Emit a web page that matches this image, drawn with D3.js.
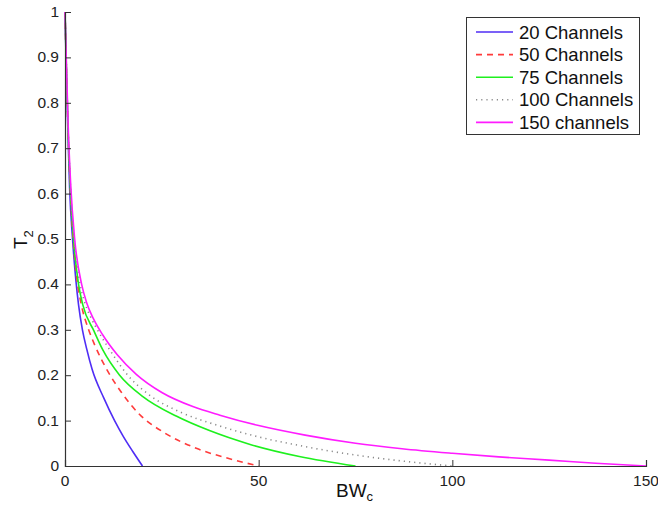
<!DOCTYPE html>
<html>
<head>
<meta charset="utf-8">
<script src="https://cdn.jsdelivr.net/npm/d3@7"></script>
<style>
  body { margin: 0; background: #fff; }
  svg { display: block; font-family: "Liberation Sans", Arial, Helvetica, sans-serif; }
</style>
</head>
<body>
<div id="grafico"></div>
<script>
// Datos (BW_c -> T_2)
const bw20  = [0, 0.4, 0.8, 1.2, 1.95, 2.8, 3.5, 4.5, 5.6, 7, 10, 12.8, 15, 17.5, 20];
const t20   = [1, 0.85, 0.72, 0.61, 0.5, 0.41, 0.355, 0.3, 0.258, 0.213, 0.15, 0.1, 0.066, 0.032, 0];

const bw50  = [0, 0.4, 0.8, 1.35, 2.1, 3.1, 4.1, 6.2, 7.6, 11.1, 14.5, 19.2, 25.7, 33.9, 42.5, 50];
const t50   = [1, 0.86, 0.735, 0.61, 0.5, 0.41, 0.36, 0.298, 0.268, 0.208, 0.163, 0.114, 0.073, 0.039, 0.016, 0];

const bw75  = [0, 0.4, 0.8, 1.4, 2.2, 3.5, 4.6, 7.5, 9.8, 14.1, 20.1, 28.7, 37.3, 48, 60.5, 75];
const t75   = [1, 0.865, 0.74, 0.61, 0.5, 0.4, 0.355, 0.297, 0.255, 0.2, 0.153, 0.11, 0.078, 0.047, 0.021, 0];

const bw100 = [0, 0.4, 0.8, 1.45, 2.35, 3.9, 5.1, 6.8, 8.5, 12, 15.9, 22, 30, 40, 50, 60, 73.5, 85, 100];
const t100  = [1, 0.87, 0.745, 0.61, 0.5, 0.4, 0.36, 0.325, 0.298, 0.25, 0.203, 0.155, 0.118, 0.088, 0.064, 0.046, 0.026, 0.013, 0];

const bw150 = [0, 0.4, 0.8, 1.5, 2.5, 4.3, 5.5, 7.3, 9.8, 13.5, 18.4, 25, 33, 40, 50, 62, 75, 87, 100, 112, 125, 137, 150];
const t150  = [1, 0.875, 0.755, 0.615, 0.5, 0.4, 0.362, 0.325, 0.288, 0.245, 0.202, 0.162, 0.131, 0.112, 0.089, 0.068, 0.05, 0.038, 0.028, 0.02, 0.013, 0.006, 0];

const nombres = ["20 Channels", "50 Channels", "75 Channels", "100 Channels", "150 channels"];
const xTicks = [0, 50, 100, 150];
const yTicks = [0, 0.1, 0.2, 0.3, 0.4, 0.5, 0.6, 0.7, 0.8, 0.9, 1];

// estilo de cada serie
const series = [
  { nombre: nombres[0], x: bw20,  y: t20,  color: "#4f2df5", dash: null },
  { nombre: nombres[1], x: bw50,  y: t50,  color: "#ff3b3b", dash: "6,5" },
  { nombre: nombres[2], x: bw75,  y: t75,  color: "#1ef01e", dash: null },
  { nombre: nombres[3], x: bw100, y: t100, color: "#8a8a8a", dash: "1.2,4" },
  { nombre: nombres[4], x: bw150, y: t150, color: "#ff1cff", dash: null }
];

const WIDTH = 658, HEIGHT = 505;
const margin = { left: 65, right: 12, top: 12, bottom: 39 };

var svg = d3.select("#grafico").append("svg")
  .attr("width", WIDTH)
  .attr("height", HEIGHT);

var x = d3.scaleLinear().domain([0, 150]).range([margin.left, WIDTH - margin.right]);
var y = d3.scaleLinear().domain([0, 1]).range([HEIGHT - margin.bottom, margin.top]);

// lineas
var linea = d3.line()
  .x(d => x(d[0]))
  .y(d => y(d[1]))
  .curve(d3.curveMonotoneX);

series.forEach(function (s) {
  var puntos = s.x.map((v, i) => [v, s.y[i]]);
  svg.append("path")
    .datum(puntos)
    .attr("fill", "none")
    .attr("stroke", s.color)
    .attr("stroke-width", 1.6)
    .attr("stroke-dasharray", s.dash)
    .attr("d", linea);
});

// ejes (ticks hacia dentro, como matlab)
var ejeX = svg.append("g")
  .attr("transform", "translate(0," + y(0) + ")")
  .call(d3.axisTop(x).tickValues(xTicks).tickSize(6).tickFormat(""));
var ejeY = svg.append("g")
  .attr("transform", "translate(" + x(0) + ",0)")
  .call(d3.axisRight(y).tickValues(yTicks).tickSize(6).tickFormat(""));
[ejeX, ejeY].forEach(function (g) {
  g.select(".domain").attr("stroke", "#333").attr("stroke-width", 1.2);
  g.selectAll(".tick line").attr("stroke", "#333").attr("stroke-width", 1);
});

svg.selectAll(".xlab")
  .data(xTicks)
  .enter().append("text")
  .attr("x", d => x(d))
  .attr("y", y(0) + 20)
  .attr("text-anchor", "middle")
  .style("font-size", "15.5px")
  .style("fill", "#222")
  .text(d => d);

svg.selectAll(".ylab")
  .data(yTicks)
  .enter().append("text")
  .attr("x", x(0) - 6)
  .attr("y", d => y(d) + 5)
  .attr("text-anchor", "end")
  .style("font-size", "15.5px")
  .style("fill", "#222")
  .text(d => d3.format("~g")(d));

// titulos de los ejes
var tx = svg.append("text")
  .attr("x", 336)
  .attr("y", 497)
  .style("font-size", "19px")
  .style("fill", "#111");
tx.append("tspan").text("BW");
tx.append("tspan").attr("dy", 4).style("font-size", "13px").text("c");

var ty = svg.append("text")
  .attr("transform", "translate(27,249) rotate(-90)")
  .style("font-size", "19px")
  .style("fill", "#111");
ty.append("tspan").text("T");
ty.append("tspan").attr("dy", 6).style("font-size", "13px").text("2");

// leyenda
var ley = svg.append("g");
ley.append("rect")
  .attr("x", 466.5).attr("y", 17.5)
  .attr("width", 173).attr("height", 117)
  .attr("fill", "#fff")
  .attr("stroke", "#333")
  .attr("stroke-width", 1);

series.forEach(function (s, i) {
  var yy = 32 + i * 22.6;
  ley.append("line")
    .attr("x1", 476).attr("x2", 513)
    .attr("y1", yy).attr("y2", yy)
    .attr("stroke", s.color)
    .attr("stroke-width", 1.6)
    .attr("stroke-dasharray", s.dash);
  ley.append("text")
    .attr("x", 519)
    .attr("y", yy + 6.5)
    .style("font-size", "18.5px")
    .style("fill", "#111")
    .text(s.nombre);
});
</script>
</body>
</html>
